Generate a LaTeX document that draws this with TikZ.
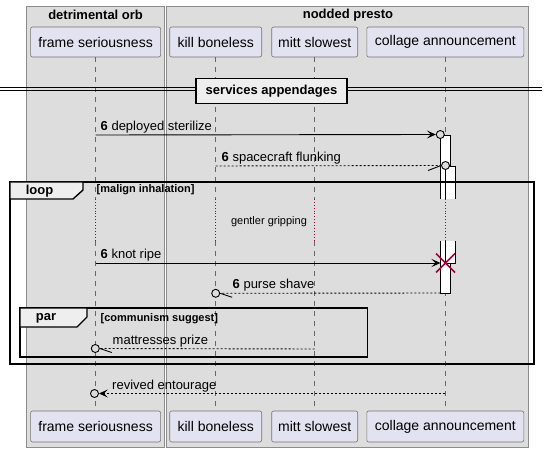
\documentclass[tikz,border=0pt]{standalone}
\usepackage{fontspec}
\setmainfont{Liberation Sans}
\usepackage{xcolor}
\usetikzlibrary{arrows.meta, positioning, calc}
\definecolor{grpgray}{HTML}{DDDDDD}
\definecolor{tabgray}{HTML}{EEEEEE}
\definecolor{partfill}{HTML}{E2E2F0}
\definecolor{plumred}{HTML}{A80036}

\begin{document}
\begin{tikzpicture}[
  x=1pt, y=-1pt,
  font=\fontsize{13}{15}\selectfont,
  grp/.style={draw=black!45, fill=grpgray, line width=0.7pt},
  grptitle/.style={font=\fontsize{13}{15}\selectfont\bfseries, inner sep=0pt},
  part/.style={
    draw=black!55, fill=partfill, rounded corners=2pt, line width=0.6pt,
    minimum height=30pt, inner xsep=0pt, font=\fontsize{14}{16}\selectfont
  },
  life/.style={black!60, dash pattern=on 5pt off 5pt, line width=0.6pt},
  delayline/.style={plumred, dotted, line width=0.9pt},
  msg/.style={line width=0.9pt},
  reply/.style={msg, dash pattern=on 2pt off 2pt},
  tip/.style={-{Stealth[length=9pt, width=8pt, inset=4pt]}},
  lbl/.style={anchor=base west, inner sep=0pt},
  ring/.style={circle, draw, fill=grpgray, line width=0.9pt, minimum size=8pt, inner sep=0pt},
  actbar/.style={draw, line width=0.9pt},
  frame/.style={draw, line width=1.4pt},
  tab/.style={draw, fill=tabgray, line width=1.4pt},
  guard/.style={anchor=west, inner sep=0pt, font=\fontsize{11}{13}\selectfont\bfseries}
]
\useasboundingbox (0,0) rectangle (550,452);

% groups
\draw[grp] (26,6) rectangle (164,447);
\draw[grp] (166,6) rectangle (528,447);
\node[grptitle] (g1t) at (95.6,15) {detrimental orb};
\node[grptitle] (g2t) at (348,15) {nodded presto};

% participants
\node[part, minimum width=130pt] (fs) at (95.6,42) {frame seriousness};
\node[part, minimum width=92pt] (kb) at (215.7,42) {kill boneless};
\node[part, minimum width=86pt] (ms) at (314.7,42) {mitt slowest};
\node[part, minimum width=157pt] (ca) at (445.3,42) {collage announcement};
\node[part, minimum width=130pt, minimum height=31pt] (fs-foot) at (95.6,426.5) {frame seriousness};
\node[part, minimum width=92pt, minimum height=31pt] (kb-foot) at (215.7,426.5) {kill boneless};
\node[part, minimum width=86pt, minimum height=31pt] (ms-foot) at (314.7,426.5) {mitt slowest};
\node[part, minimum width=157pt, minimum height=31pt] (ca-foot) at (445.3,426.5) {collage announcement};

% lifelines with delay
\coordinate (dlytop) at (0,199);
\coordinate (dlybot) at (0,241);
\foreach \p in {fs,kb,ms,ca} {
  \draw[life] (\p.south) -- (\p.south |- dlytop);
  \draw[delayline] (\p.south |- dlytop) -- (\p.south |- dlybot);
  \draw[life] (\p.south |- dlybot) -- (\p-foot.north);
}
\node[font=\fontsize{11}{13}\selectfont] (dlytxt) at (269,222) {gentler gripping};

% divider
\coordinate (dvl) at (0,87.3);
\coordinate (dvr) at (542,87.3);
\draw[line width=0.9pt] (dvl) -- (dvr) ([yshift=-3pt]dvl) -- ([yshift=-3pt]dvr);
\node[draw, fill=tabgray, line width=1.6pt, minimum width=151pt, minimum height=25pt,
  font=\fontsize{13}{15}\selectfont\bfseries] (div) at (271.5,91) {services appendages};

% activations
\fill[white] (440.3,135) rectangle (450.3,199);
\draw[actbar] (440.3,199) -- (440.3,135) -- (450.3,135) -- (450.3,199);
\fill[white] (440.3,241) rectangle (450.3,293);
\draw[actbar] (440.3,241) -- (440.3,293) -- (450.3,293) -- (450.3,241);
\fill[white] (445.3,166) rectangle (455.3,199);
\draw[actbar] (445.3,199) -- (445.3,166) -- (455.3,166) -- (455.3,199);
\fill[white] (445.3,241) rectangle (455.3,263);
\draw[actbar] (445.3,241) -- (445.3,263) -- (455.3,263) -- (455.3,241);

% messages
\coordinate (m1a) at (95.6,135);
\node[ring] (m1o) at (440.3,134.5) {};
\draw[msg, tip] (m1a) -- (m1o.west);
\node[lbl] (m1l) at (100.5,130.5) {\textbf{6} deployed sterilize};

\coordinate (m2a) at (215.7,166);
\node[ring] (m2o) at (445.5,165.5) {};
\draw[reply] (m2a) -- (m2o.west);
\draw[msg] (m2o.west) -- ++(-13,5);
\node[lbl] (m2l) at (221.5,161.5) {\textbf{6} spacecraft flunking};

\coordinate (m3a) at (95.6,263);
\coordinate (m3x) at (445.5,263);
\draw[msg, tip] (m3a) -- ($(m3x)+(-5,0)$);
\draw[plumred, line width=1.6pt] (m3x) +(-9.5,-9.5) -- +(9.5,9.5)
  (m3x) +(-9.5,9.5) -- +(9.5,-9.5);
\node[lbl] (m3l) at (100.5,258.5) {\textbf{6} knot ripe};

\coordinate (m4a) at (440.3,293);
\node[ring] (m4o) at (215.7,293.3) {};
\draw[reply] (m4a) -- (m4o.east);
\draw[msg] (m4o.east) -- ++(12,4);
\node[lbl] (m4l) at (232.5,288.5) {\textbf{6} purse shave};

\coordinate (m5a) at (314.7,349);
\node[ring] (m5o) at (95.3,348.5) {};
\draw[reply] (m5a) -- (m5o.east);
\draw[msg] (m5o.east) -- ++(12,4);
\node[lbl] (m5l) at (112.5,344.5) {mattresses prize};

\coordinate (m6a) at (445.3,393.5);
\node[ring] (m6o) at (94.5,393.5) {};
\draw[reply, tip] (m6a) -- (m6o.east);
\node[lbl] (m6l) at (112,389) {revived entourage};

% loop
\draw[frame] (10,182) rectangle (534,364);
\draw[tab] (10,182) -- (83,182) -- (83,190) -- (73,199) -- (10,199) -- cycle;
\node[font=\fontsize{13}{15}\selectfont\bfseries] (loopl) at (39.5,191) {loop};
\node[guard] (loopg) at (96.5,190) {[malign inhalation]};

% par
\draw[frame] (20,308) rectangle (367.7,357);
\draw[tab] (20,308) -- (87,308) -- (87,317) -- (77,327) -- (20,327) -- cycle;
\node[font=\fontsize{13}{15}\selectfont\bfseries] (parl) at (46,318) {par};
\node[guard] (parg) at (100.5,318.5) {[communism suggest]};
\end{tikzpicture}
\end{document}
